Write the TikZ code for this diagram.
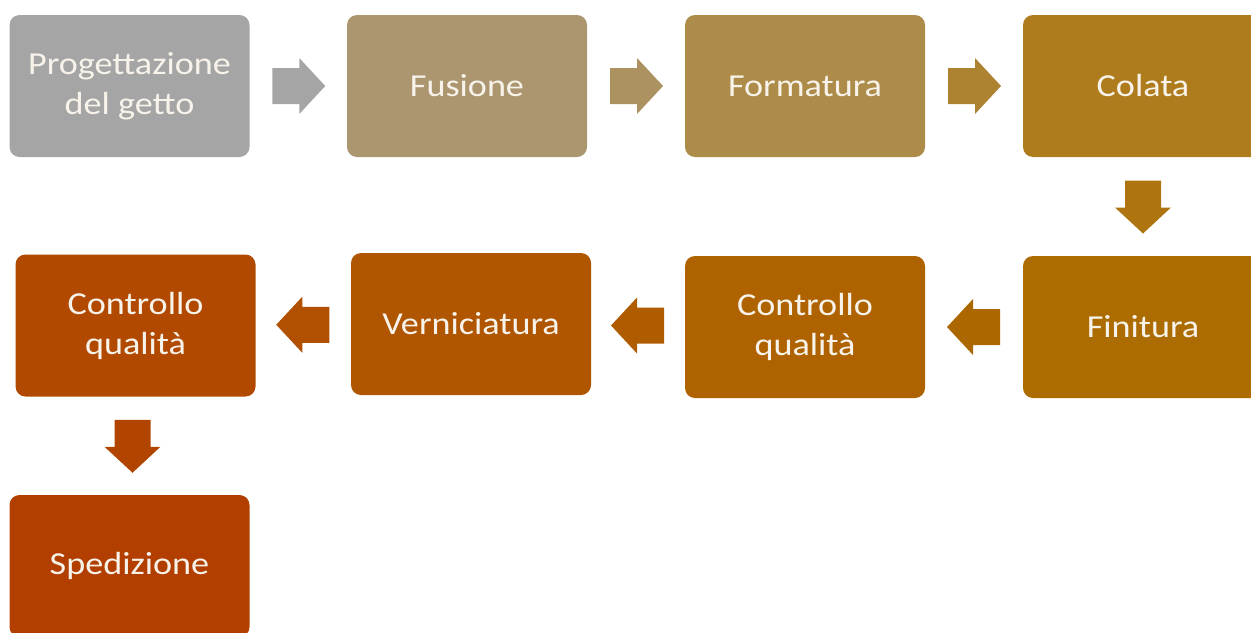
\documentclass[tikz,border=0pt]{standalone}
\usepackage{fontspec}
\setmainfont{Carlito}[FakeStretch=1.13]
\usepackage{tikz}
\usetikzlibrary{calc}

\definecolor{cgrigio}{HTML}{A5A5A5}
\definecolor{cfus}{HTML}{AB9670}
\definecolor{cform}{HTML}{AD8B48}
\definecolor{ccol}{HTML}{AE7C1D}
\definecolor{cfin}{HTML}{AD6C02}
\definecolor{ckq}{HTML}{AE6300}
\definecolor{cvern}{HTML}{B05500}
\definecolor{ckqb}{HTML}{B14A00}
\definecolor{csped}{HTML}{B23F00}
\definecolor{ctesto}{HTML}{F8F3EA}

\tikzset{
  fase/.style={rounded corners=5pt, minimum width=120pt, minimum height=71pt,
    inner sep=0pt, align=center, text=ctesto,
    font=\fontsize{16}{20}\selectfont},
  pics/freccia/.style={code={
    \fill[pic actions] (-26,-18) -- (1,-18) -- (1,-28) -- (27,0)
      -- (1,28) -- (1,18) -- (-26,18) -- cycle;}}
}

\begin{document}
\begin{tikzpicture}[x=0.5pt,y=-0.5pt]

  \useasboundingbox (0,0) rectangle (1251,632);

  %% prima riga
  \node[fase, fill=cgrigio] (prog) at (129.5,86) {Progettazione\\del getto};
  \node[fase, fill=cfus]    (fus)  at (467,86)   {Fusione};
  \node[fase, fill=cform]   (form) at (805,86)   {Formatura};
  \node[fase, fill=ccol]    (col)  at (1143,86)  {Colata};

  %% seconda riga
  \node[fase, fill=cfin]    (fin)  at (1143,327)  {Finitura};
  \node[fase, fill=ckq]     (kqa)  at (805,327)   {Controllo\\qualità};
  \node[fase, fill=cvern]   (vern) at (471,324)   {Verniciatura};
  \node[fase, fill=ckqb]    (kqb)  at (135.5,325.5) {Controllo\\qualità};

  %% terza riga
  \node[fase, fill=csped]   (sped) at (129.5,566) {Spedizione};

  \path ($(prog.east)!0.5!(fus.west)$) pic[fill=cgrigio] {freccia}; % prog->fus
  \path ($(fus.east)!0.5!(form.west)$) pic[fill=cfus!60!cform] {freccia}; % fus->form
  \path ($(form.east)!0.5!(col.west)$) pic[fill=cform!50!ccol] {freccia}; % form->col
  \path ($(col.south)!0.5!(fin.north)$) pic[fill=ccol!50!cfin, rotate=-90] {freccia}; % col->fin
  \path ($(fin.west)!0.5!(kqa.east)$) pic[fill=cfin!50!ckq, rotate=180] {freccia}; % fin->kqa
  \path ($(kqa.west)!0.5!(vern.east)$) pic[fill=ckq!50!cvern, rotate=180] {freccia}; % kqa->vern
  \path ($(vern.west)!0.5!(kqb.east)$) pic[fill=cvern!50!ckqb, rotate=180] {freccia}; % vern->kqb
  \path ($(kqb.south)!0.5!(sped.north)$) pic[fill=ckqb!50!csped, rotate=-90] {freccia}; % kqb->sped

\end{tikzpicture}
\end{document}
